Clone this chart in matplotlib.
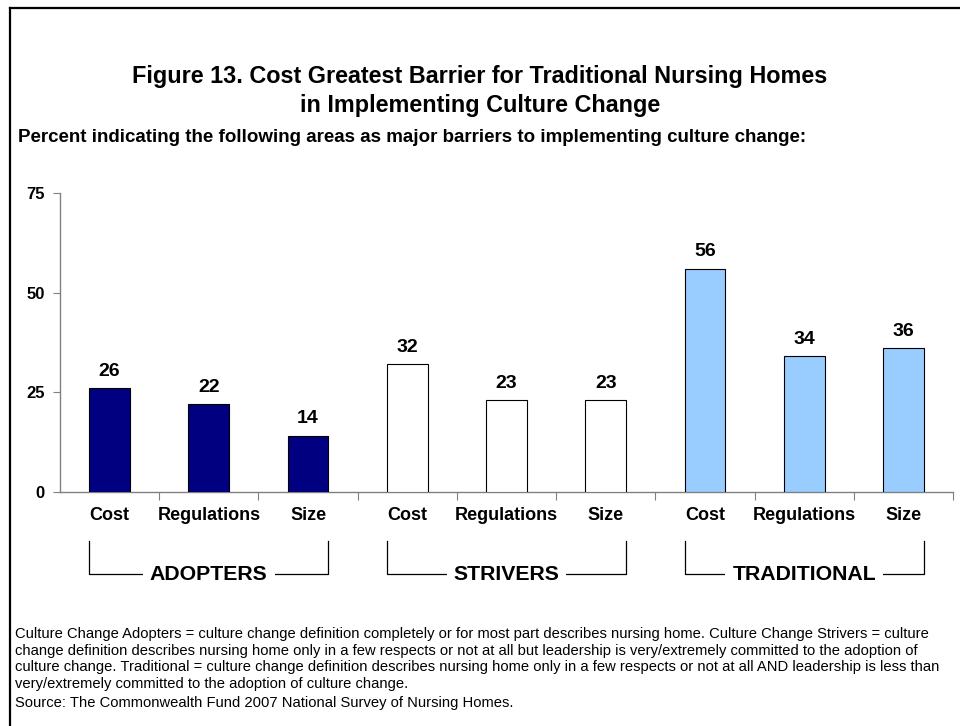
import numpy as np
import matplotlib
matplotlib.use("Agg")
import matplotlib.pyplot as plt
from matplotlib.lines import Line2D

plt.rcParams['font.family'] = ['Liberation Sans', 'DejaVu Sans']

groups = ["ADOPTERS", "STRIVERS", "TRADITIONAL"]
barriers = ["Cost", "Regulations", "Size"]
adopters = [26, 22, 14]
strivers = [32, 23, 23]
traditional = [56, 34, 36]
group_colors = ["#000080", "#FFFFFF", "#99CCFF"]
y_ticks = [0, 25, 50, 75]

title = ("Figure 13. Cost Greatest Barrier for Traditional Nursing Homes\n"
         "in Implementing Culture Change")
subtitle = "Percent indicating the following areas as major barriers to implementing culture change:"
notes = ("Culture Change Adopters = culture change definition completely or for most part describes nursing home. "
         "Culture Change Strivers = culture\n"
         "change definition describes nursing home only in a few respects or not at all but leadership is "
         "very/extremely committed to the adoption of\n"
         "culture change. Traditional = culture change definition describes nursing home only in a few respects "
         "or not at all AND leadership is less than\n"
         "very/extremely committed to the adoption of culture change.")
source = "Source: The Commonwealth Fund 2007 National Survey of Nursing Homes."

W, H = 960, 726
fig = plt.figure(figsize=(W / 100, H / 100), dpi=100)

def fx(px):
    return px / W

def fy(py):
    return 1 - py / H

# left/top frame lines
fig.add_artist(Line2D([fx(9.5), fx(9.5)], [fy(7.5), 0], transform=fig.transFigure, color="black", lw=1.6))
fig.add_artist(Line2D([fx(9.5), 1], [fy(7.5), fy(7.5)], transform=fig.transFigure, color="black", lw=1.6))

fig.text(0.5, fy(91), title, ha="center", va="center", fontsize=16.8, fontweight="bold", linespacing=1.35)
fig.text(fx(18), fy(137), subtitle, ha="left", va="center", fontsize=13.5, fontweight="bold")

ax = fig.add_axes([fx(60), fy(492), fx(953) - fx(60), fy(193) - fy(492)])

values = [adopters, strivers, traditional]
n = len(barriers)
bar_w = 0.41
for g, (vals, col) in enumerate(zip(values, group_colors)):
    xs = np.arange(n) + g * n
    ax.bar(xs, vals, width=bar_w, color=col, edgecolor="black", linewidth=0.8, zorder=3)
    for x, v in zip(xs, vals):
        ax.text(x, v + 2.2, str(v), ha="center", va="bottom", fontsize=14, fontweight="bold")

ax.set_xlim(-0.5, len(groups) * n - 0.5)
ax.set_ylim(0, 75)
ax.set_yticks(y_ticks)
ax.set_yticklabels([str(t) for t in y_ticks], fontsize=12, fontweight="bold")
ax.tick_params(axis="y", direction="out", length=5, color="#808080", pad=6)

# ticks sit on category boundaries
ax.set_xticks(np.arange(len(groups) * n) + 0.5)
ax.set_xticklabels([])
ax.tick_params(axis="x", direction="out", length=6, color="#808080")

for s in ["top", "right"]:
    ax.spines[s].set_visible(False)
for s in ["left", "bottom"]:
    ax.spines[s].set_color("#808080")
    ax.spines[s].set_linewidth(1.0)

# category labels and group brackets
trans = ax.get_xaxis_transform()
for g, name in enumerate(groups):
    for i, b in enumerate(barriers):
        ax.text(g * n + i, -0.08, b, transform=trans, ha="center", va="center",
                fontsize=13, fontweight="bold", clip_on=False)
    left = g * n - bar_w / 2
    right = g * n + n - 1 + bar_w / 2
    y_top, y_bot = -0.163, -0.273
    ax.add_line(Line2D([left, left, right, right], [y_top, y_bot, y_bot, y_top],
                       transform=trans, color="black", lw=0.9, clip_on=False))
    ax.text(g * n + (n - 1) / 2, y_bot - 0.004, name, transform=trans, ha="center", va="center",
            fontsize=15.3, fontweight="bold", clip_on=False,
            bbox=dict(facecolor="white", edgecolor="none", pad=5))

fig.text(fx(15), fy(627), notes, ha="left", va="top", fontsize=10.6, linespacing=1.24)
fig.text(fx(15), fy(703), source, ha="left", va="center", fontsize=10.6)

fig.savefig("out.png", dpi=100)
